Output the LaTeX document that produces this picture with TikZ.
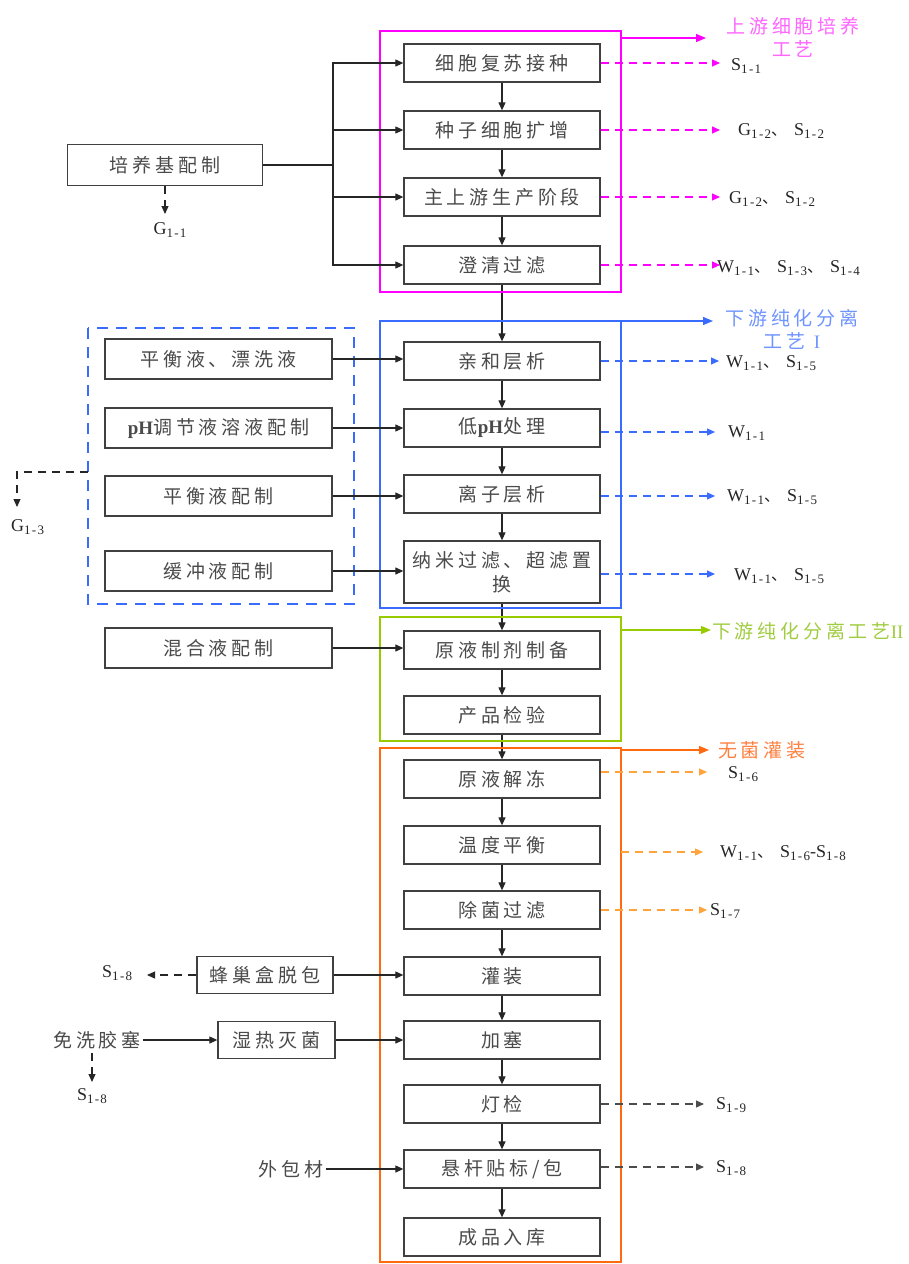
\documentclass[tikz,border=0pt]{standalone}
\usepackage{fontspec}
\setmainfont{Liberation Serif}
\newfontfamily\cjk{Noto Sans CJK SC}[LetterSpace=20]
\newfontfamily\cjkn{Noto Sans CJK SC}
\newfontfamily\subf{Liberation Serif}[LetterSpace=10]
\usetikzlibrary{arrows.meta}
\definecolor{mag}{HTML}{FF00FF}
\definecolor{magt}{HTML}{FF66FF}
\definecolor{blu}{HTML}{3A6BFF}
\definecolor{blut}{HTML}{6F94FF}
\definecolor{grn}{HTML}{99CC00}
\definecolor{grnt}{HTML}{A0CC40}
\definecolor{org}{HTML}{FF6A10}
\definecolor{orgl}{HTML}{FFA33A}
\definecolor{orgt}{HTML}{FF8040}
\definecolor{txt}{HTML}{4A4A4A}
\newcommand\sx[2]{#1\raisebox{-0.35ex}{\subf\fontsize{13}{13}\selectfont #2}}
\newcommand\dn{{\cjkn\fontsize{16}{16}\selectfont 、}\hspace{7pt}}
\newcommand\ph{{\rmfamily\bfseries\fontsize{19}{20}\selectfont pH}}
\tikzset{
  proc/.style={draw=black!75, line width=1.3pt, minimum width=196pt, minimum height=38pt,
    inner sep=0pt, font=\fontsize{19}{24}\selectfont\cjk, text=txt},
  sbox/.style={proc, minimum width=227pt, minimum height=40pt},
  plain/.style={font=\fontsize{19}{24}\selectfont\cjk, text=txt, inner sep=2pt},
  arr/.style={draw=black!85, line width=1.1pt, -{Triangle[length=8pt,width=7pt]}},
  darr/.style={line width=1.1pt, dash pattern=on 8pt off 6pt, -{Triangle[length=8pt,width=7pt]}},
  sarr/.style={line width=1.3pt, -{Triangle[length=10pt,width=8pt]}},
  lab/.style={font=\fontsize{18}{20}\selectfont, anchor=west, inner sep=0pt, text=black!85},
  flab/.style={font=\fontsize{19}{23}\selectfont\cjk, align=center, inner sep=0pt},
  frame/.style={line width=2.8pt}
}
\begin{document}
\begin{tikzpicture}[x=1pt,y=-1pt]
\useasboundingbox (0,0) rectangle (909,1264);
% main column
\node[proc] (b1) at (502,63) {细胞复苏接种};
\node[proc] (b2) at (502,130) {种子细胞扩增};
\node[proc] (b3) at (502,197) {主上游生产阶段};
\node[proc] (b4) at (502,265) {澄清过滤};
\node[proc] (b5) at (502,361) {亲和层析};
\node[proc] (b6) at (502,428) {低\ph 处理};
\node[proc] (b7) at (502,494) {离子层析};
\node[proc, minimum height=62pt, align=center] (b8) at (502,572) {纳米过滤、超滤置\\换};
\node[proc] (b9) at (502,650) {原液制剂制备};
\node[proc] (b10) at (502,715) {产品检验};
\node[proc] (b11) at (502,779) {原液解冻};
\node[proc] (b12) at (502,845) {温度平衡};
\node[proc] (b13) at (502,910) {除菌过滤};
\node[proc] (b14) at (502,976) {灌装};
\node[proc] (b15) at (502,1040) {加塞};
\node[proc] (b16) at (502,1104) {灯检};
\node[proc] (b17) at (502,1169) {悬杆贴标/包};
\node[proc] (b18) at (502,1237) {成品入库};
\foreach \a/\b in {b1/b2,b2/b3,b3/b4,b4/b5,b5/b6,b6/b7,b7/b8,b8/b9,b9/b10,b10/b11,b11/b12,b12/b13,b13/b14,b14/b15,b15/b16,b16/b17,b17/b18}
  \draw[arr] (\a) -- (\b);
% frames
\draw[frame, mag] (380,31) rectangle (621,292);
\draw[frame, blu] (380,321) rectangle (621,608);
\draw[frame, grn] (380,617) rectangle (621,741);
\draw[frame, org] (380,748) rectangle (621,1262);
% left top
\node[proc, minimum width=195pt, minimum height=41pt] (m) at (165,165) {培养基配制};
\coordinate (bus) at (333,165);
\foreach \b in {b1,b2,b3,b4} \draw[arr] (m.east) -- (bus) |- (\b.west);
\node[lab, anchor=center] (g11) at (170,230) {\sx{G}{1-1}};
\coordinate (g11t) at (165,214);
\draw[darr, black!85] (m.south) -- (g11t);
% left dashed group
\draw[blu, line width=2.6pt, dash pattern=on 11pt off 8pt] (88,328) rectangle (354,604);
\node[sbox] (l1) at (218.5,359) {平衡液、漂洗液};
\node[sbox] (l2) at (218.5,428) {\ph 调节液溶液配制};
\node[sbox] (l3) at (218.5,496) {平衡液配制};
\node[sbox] (l4) at (218.5,571) {缓冲液配制};
\node[sbox] (l5) at (218.5,648) {混合液配制};
\draw[arr] (l1.east) -- (l1.east -| b5.west);
\draw[arr] (l2.east) -- (l2.east -| b6.west);
\draw[arr] (l3.east) -- (l3.east -| b7.west);
\draw[arr] (l4.east) -- (l4.east -| b8.west);
\draw[arr] (l5.east) -- (l5.east -| b9.west);
\coordinate (gs) at (88,472);
\coordinate (gc) at (17,472);
\coordinate (ge) at (17,507);
\draw[darr, black!85] (gs) -- (gc) -- (ge);
\node[lab] (g13) at (11,527) {\sx{G}{1-3}};
% left bottom
\node[proc, minimum width=136pt, minimum height=37pt] (f1) at (265,975) {蜂巢盒脱包};
\node[proc, minimum width=117pt, minimum height=37pt] (f2) at (276.5,1040) {湿热灭菌};
\draw[arr] (f1.east) -- (f1.east -| b14.west);
\draw[arr] (f2.east) -- (f2.east -| b15.west);
\coordinate (f1t) at (147,975);
\draw[darr, black!85] (f1.west) -- (f1t);
\node[lab] (s18a) at (102,973) {\sx{S}{1-8}};
\node[plain] (t1) at (97,1040) {免洗胶塞};
\draw[arr] (t1.east) -- (f2.west);
\coordinate (t1d) at (92,1053);
\coordinate (t1e) at (92,1082);
\draw[darr, black!85] (t1d) -- (t1e);
\node[lab, anchor=center] (s18b) at (92,1096) {\sx{S}{1-8}};
\node[plain] (t2) at (291,1169) {外包材};
\draw[arr] (t2.east) -- (t2.east -| b17.west);
% right: magenta
\coordinate (mf) at (621,38);
\coordinate (mfe) at (706,38);
\draw[sarr, mag] (mf) -- (mfe);
\node[flab, text=magt] (ml) at (793,37) {上游细胞培养\\工艺};
\coordinate (mx) at (720,0);
\draw[darr, mag] (b1.east) -- (b1.east -| mx);
\node[lab] at (731,66) {\sx{S}{1-1}};
\draw[darr, mag] (b2.east) -- (b2.east -| mx);
\node[lab] at (738,131) {\sx{G}{1-2}\dn\sx{S}{1-2}};
\draw[darr, mag] (b3.east) -- (b3.east -| mx);
\node[lab] at (729,199) {\sx{G}{1-2}\dn\sx{S}{1-2}};
\draw[darr, mag] (b4.east) -- (b4.east -| mx);
\node[lab] at (717,268) {\sx{W}{1-1}\dn\sx{S}{1-3}\dn\sx{S}{1-4}};
% right: blue
\coordinate (bf) at (621,321);
\coordinate (bfe) at (713,321);
\draw[sarr, blu] (bf) -- (bfe);
\node[flab, text=blut] (bl) at (792,329) {下游纯化分离\\工艺 {\rmfamily I}};
\coordinate (bx) at (719,0);
\coordinate (bx2) at (715,0);
\draw[darr, blu] (b5.east) -- (b5.east -| bx);
\node[lab] at (726,363) {\sx{W}{1-1}\dn\sx{S}{1-5}};
\draw[darr, blu] ([yshift=-4pt]b6.east) -- ([yshift=-4pt]b6.east -| bx2);
\node[lab] at (728,433) {\sx{W}{1-1}};
\draw[darr, blu] ([yshift=-2pt]b7.east) -- ([yshift=-2pt]b7.east -| bx2);
\node[lab] at (727,497) {\sx{W}{1-1}\dn\sx{S}{1-5}};
\draw[darr, blu] ([yshift=-2pt]b8.east) -- ([yshift=-2pt]b8.east -| bx2);
\node[lab] at (734,576) {\sx{W}{1-1}\dn\sx{S}{1-5}};
% right: green
\coordinate (gf) at (621,630);
\coordinate (gfe) at (711,630);
\draw[sarr, grn] (gf) -- (gfe);
\node[flab, text=grnt, anchor=west] (gl) at (712,631) {下游纯化分离工艺{\rmfamily II}};
% right: orange
\coordinate (of) at (621,750);
\coordinate (ofe) at (709,750);
\draw[sarr, org] (of) -- (ofe);
\node[flab, text=orgt, anchor=west] (ol) at (718,750) {无菌灌装};
\coordinate (ox) at (707,0);
\draw[darr, orgl] ([yshift=7pt]b11.east) -- ([yshift=7pt]b11.east -| ox);
\node[lab] at (728,774) {\sx{S}{1-6}};
\coordinate (os) at (621,852);
\coordinate (oe) at (703,852);
\draw[darr, orgl] (os) -- (oe);
\node[lab] at (720,853) {\sx{W}{1-1}\dn\sx{S}{1-6}-\sx{S}{1-8}};
\draw[darr, orgl] (b13.east) -- (b13.east -| ox);
\node[lab] at (710,911) {\sx{S}{1-7}};
% right: gray
\coordinate (kx) at (704,0);
\draw[darr, black!70] (b16.east) -- (b16.east -| kx);
\node[lab] at (716,1105) {\sx{S}{1-9}};
\draw[darr, black!70] ([yshift=2pt]b17.east) -- ([yshift=2pt]b17.east -| kx);
\node[lab] at (716,1168) {\sx{S}{1-8}};
\end{tikzpicture}
\end{document}
